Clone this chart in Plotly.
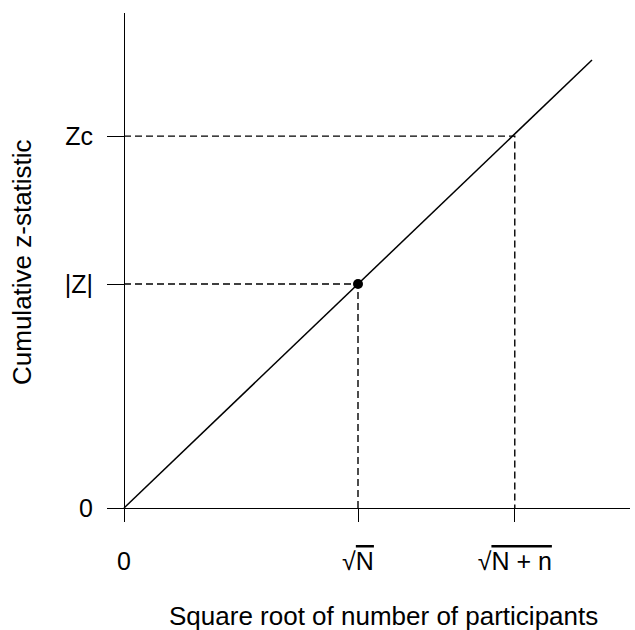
import plotly.graph_objects as go

# ---- data (conceptual units) ----
line_x = [0.0, 2.0]
line_y = [0.0, 2.0]
sqrt_N = 1.0
sqrt_Nn = 1.67
z_obs = 1.0
z_crit = 1.66

x_tickvals = [0.0, sqrt_N, sqrt_Nn]
x_ticktext = ["0",
              "\u221a<span style='text-decoration:overline'>N</span>",
              "\u221a<span style='text-decoration:overline'>N + n</span>"]
y_tickvals = [0.0, z_obs, z_crit]
y_ticktext = ["0", "|Z|", "Zc"]

x_title = "Square root of number of participants"
y_title = "Cumulative z-statistic"

FONT = "Liberation Sans, Arial, sans-serif"
FS = 26
FS_TICK = 25

fig = go.Figure()

dash_style = dict(color="black", width=1.4, dash="7px,4px")
# dashed guides for observed point
fig.add_trace(go.Scatter(x=[0, sqrt_N, sqrt_N], y=[z_obs, z_obs, 0], mode="lines",
                         line=dash_style, hoverinfo="skip", showlegend=False))
# dashed guides for critical value
fig.add_trace(go.Scatter(x=[0, sqrt_Nn, sqrt_Nn], y=[z_crit, z_crit, 0], mode="lines",
                         line=dash_style, hoverinfo="skip", showlegend=False))
# main line
fig.add_trace(go.Scatter(x=line_x, y=line_y, mode="lines",
                         line=dict(color="black", width=1.5), showlegend=False))
# observed point
fig.add_trace(go.Scatter(x=[sqrt_N], y=[z_obs], mode="markers",
                         marker=dict(color="black", size=10), showlegend=False))

L, R, T, B = 107, 5, 13, 108
W, H = 635, 630
pw = W - L - R
ph = H - T - B
x_px_per = 234.0
y_px_per = 224.0
x0_px = 124 - L
y0_px = (H - B) - 508

fig.update_layout(
    width=W, height=H,
    margin=dict(l=L, r=R, t=T, b=B, pad=0),
    paper_bgcolor="white", plot_bgcolor="white",
    font=dict(family=FONT, size=FS, color="black"),
    xaxis=dict(
        range=[-x0_px / x_px_per, (pw - x0_px) / x_px_per],
        showgrid=False, zeroline=True, zerolinecolor="black", zerolinewidth=1.4,
        showline=False,
        tickmode="array", tickvals=x_tickvals, ticktext=x_ticktext,
        ticks="inside", ticklen=14, tickwidth=1.4, tickcolor="black",
        ticklabelstandoff=22,
        tickfont=dict(family=FONT, size=FS_TICK, color="black"),
    ),
    yaxis=dict(
        range=[-y0_px / y_px_per, (ph - y0_px) / y_px_per],
        showgrid=False, zeroline=True, zerolinecolor="black", zerolinewidth=1.4,
        showline=False,
        tickmode="array", tickvals=y_tickvals, ticktext=y_ticktext,
        ticks="inside", ticklen=17, tickwidth=1.4, tickcolor="black",
        ticklabelstandoff=13,
        tickfont=dict(family=FONT, size=FS_TICK, color="black"),
    ),
    annotations=[
        dict(text=x_title, xref="paper", yref="paper",
             x=(383 - L) / pw, y=-(616 - (H - B)) / ph,
             xanchor="center", yanchor="middle", showarrow=False,
             font=dict(family=FONT, size=FS, color="black")),
        dict(text=y_title, xref="paper", yref="paper",
             x=(22 - L) / pw, y=((H - B) - 262) / ph,
             xanchor="center", yanchor="middle", showarrow=False, textangle=-90,
             font=dict(family=FONT, size=FS, color="black")),
    ],
)

fig.write_html("out.html")
